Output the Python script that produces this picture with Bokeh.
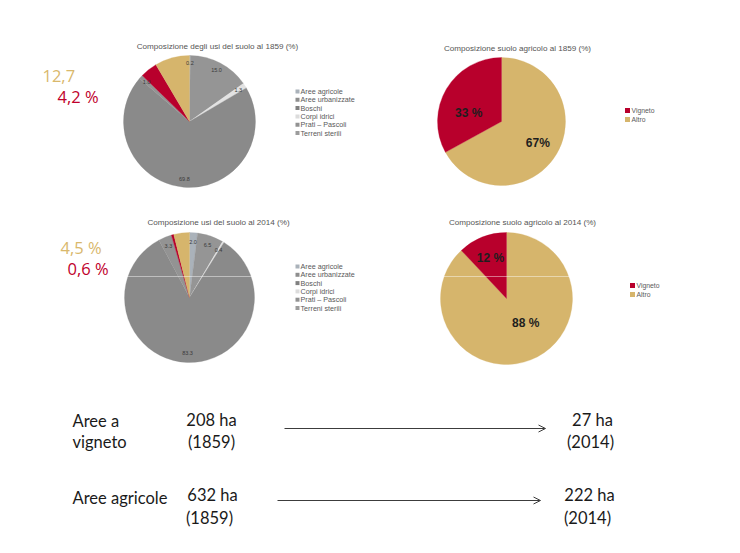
import math
import numpy as np
from bokeh.plotting import figure
from bokeh.models import Range1d, Arrow, OpenHead, ColumnDataSource
from bokeh.core.properties import value
from bokeh.embed import file_html
from bokeh.resources import INLINE

# ---------------- data ----------------
land_categories = ["Aree agricole", "Aree urbanizzate", "Boschi", "Corpi idrici",
                   "Prati \u2013 Pascoli", "Terreni sterili"]
land_legend_colors = ["#aab2ba", "#8e8e8e", "#808080", "#dcdcdc", "#929292", "#9c9c9c"]

# slices clockwise from 12 o'clock (vineyard + other agricultural overlaid in colour)
land_1859_values = [0.2, 15.0, 1.3, 69.8, 1.0, 4.2, 8.5]
land_1859_labels = ["0.2", "15.0", "1.3", "69.8", "1.0", "", ""]
land_2014_values = [2.0, 6.5, 0.4, 83.3, 3.3, 0.6, 3.9]
land_2014_labels = ["2.0", "6.5", "0.4", "83.3", "3.3", "", ""]
land_slice_colors = ["#aab2ba", "#959595", "#e2e2e2", "#8a8a8a", "#939393", "#b8002c", "#d6b56c"]

agri_categories = ["Vigneto", "Altro"]
agri_colors = ["#b8002c", "#d6b56c"]
agri_1859 = [33, 67]
agri_2014 = [12, 88]
agri_1859_labels = ["33 %", "67%"]
agri_2014_labels = ["12 %", "88 %"]

agri_share_1859 = "12,7"
vine_share_1859 = "4,2 %"
agri_share_2014 = "4,5 %"
vine_share_2014 = "0,6 %"

row_line1 = ["Aree a", "Aree agricole"]
row_line2 = ["vigneto", ""]
ha_1859 = [208, 632]
ha_2014 = [27, 222]

titles = ["Composizione degli usi del suolo al 1859 (%)",
          "Composizione suolo agricolo al 1859 (%)",
          "Composizione usi del suolo al 2014 (%)",
          "Composizione suolo agricolo al 2014 (%)"]

# ---------------- figure ----------------
W, H = 724, 537
p = figure(width=W, height=H, output_backend="svg", toolbar_location=None,
           x_range=Range1d(0, W), y_range=Range1d(-H, 0),
           x_axis_type=None, y_axis_type=None, min_border=0,
           outline_line_color=None, background_fill_color="white")

SMALL = value("Liberation Sans")
CAL = value("Lato")


def pie(cx, cy, r, vals, colors):
    cum = np.concatenate([[0.0], np.cumsum(vals)]) / float(sum(vals))
    start = math.pi / 2 - cum[:-1] * 2 * math.pi
    end = math.pi / 2 - cum[1:] * 2 * math.pi
    src = ColumnDataSource(dict(x=[cx] * len(vals), y=[-cy] * len(vals),
                                s=start, e=end, c=colors))
    p.wedge(x="x", y="y", radius=r, start_angle="s", end_angle="e",
            direction="clock", fill_color="c", line_color="c", line_width=0.3,
            source=src)
    mid = math.pi / 2 - (cum[:-1] + cum[1:]) * math.pi
    return mid


def pie_labels(cx, cy, r, mid, labels, k, size, color, bold=False):
    ks = k if isinstance(k, (list, tuple)) else [k] * len(labels)
    xs = [cx + kk * r * math.cos(a) for kk, a in zip(ks, mid)]
    ys = [-cy + kk * r * math.sin(a) for kk, a in zip(ks, mid)]
    p.text(x=xs, y=ys, text=labels, text_align="center", text_baseline="middle",
           text_font=SMALL, text_font_size=size, text_color=color,
           text_font_style="bold" if bold else "normal")


# land use pies
m = pie(189, 121, 66, land_1859_values, land_slice_colors)
pie_labels(189, 121, 66, m, land_1859_labels, 0.88, "5.5px", "#3a3a3a")
m = pie(189, 297, 65, land_2014_values, land_slice_colors)
pie_labels(189, 297, 65, m, land_2014_labels, 0.86, "5.5px", "#3a3a3a")

# agricultural pies (Altro first clockwise, then Vigneto)
m = pie(501, 121, 64, agri_1859[::-1], agri_colors[::-1])
pie_labels(501, 121, 64, m + np.array([0.0, 0.28]), agri_1859_labels[::-1],
           [0.66, 0.53], "12px", "#1e1e1e", bold=True)
m = pie(506, 298, 66, agri_2014[::-1], agri_colors[::-1])
pie_labels(506, 298, 66, m + np.array([0.29, 0.0]), agri_2014_labels[::-1],
           [0.47, 0.66], "12px", "#1e1e1e", bold=True)

# faint scan line across the lower pies
p.segment(x0=[120, 437], y0=[-276, -276], x1=[258, 575], y1=[-276, -276],
          line_color="white", line_alpha=0.45, line_width=1)

# titles
p.text(x=[217, 517, 218, 522], y=[-46, -48, -222, -222], text=titles,
       text_align="center", text_baseline="middle", text_font=SMALL,
       text_font_size="8.1px", text_color="#555555")

# land legends
for ly in (91, 266):
    ys = [-(ly + 8.3 * i) for i in range(len(land_categories))]
    p.scatter(x=[297] * len(ys), y=ys, marker="square", size=4,
              fill_color=land_legend_colors, line_color=None)
    p.text(x=[300] * len(ys), y=ys, text=land_categories, text_baseline="middle",
           text_font=SMALL, text_font_size="7.2px", text_color="#595959")

# agricultural legends
for lx, ly in ((627, 110), (632, 285)):
    ys = [-ly, -(ly + 9)]
    p.scatter(x=[lx, lx], y=ys, marker="square", size=5,
              fill_color=agri_colors, line_color=None)
    p.text(x=[lx + 4, lx + 4], y=ys, text=agri_categories, text_baseline="middle",
           text_font=SMALL, text_font_size="6.8px", text_color="#595959")

# share annotations
p.text(x=[42, 60], y=[-75, -247], text=[agri_share_1859, agri_share_2014],
       text_baseline="middle", text_font=value("Open Sans"), text_font_size="16.5px",
       text_color="#d9b86c")
p.text(x=[57, 67], y=[-96, -268], text=[vine_share_1859, vine_share_2014],
       text_baseline="middle", text_font=value("Open Sans"), text_font_size="16.5px",
       text_color="#c0002b")

# bottom comparison
FS = "16.5px"
p.text(x=[72, 72], y=[-420, -497], text=row_line1, text_baseline="middle",
       text_font=CAL, text_font_size=FS, text_color="#1a1a1a")
p.text(x=[72], y=[-441], text=row_line2[:1], text_baseline="middle",
       text_font=CAL, text_font_size=FS, text_color="#1a1a1a")
p.text(x=[211, 212], y=[-419, -494], text=[f"{ha_1859[0]} ha", f"{ha_1859[1]} ha"],
       text_align="center", text_baseline="middle", text_font=CAL,
       text_font_size=FS, text_color="#1a1a1a")
p.text(x=[211, 209], y=[-441, -517], text=["(1859)", "(1859)"],
       text_align="center", text_baseline="middle", text_font=CAL,
       text_font_size=FS, text_color="#1a1a1a")
p.text(x=[592, 589], y=[-419, -494], text=[f"{ha_2014[0]} ha", f"{ha_2014[1]} ha"],
       text_align="center", text_baseline="middle", text_font=CAL,
       text_font_size=FS, text_color="#1a1a1a")
p.text(x=[590, 587], y=[-441, -517], text=["(2014)", "(2014)"],
       text_align="center", text_baseline="middle", text_font=CAL,
       text_font_size=FS, text_color="#1a1a1a")

for x0, x1, y in ((284, 545, 428), (277, 540, 500)):
    p.add_layout(Arrow(x_start=x0, y_start=-y, x_end=x1, y_end=-y,
                       line_color="#3c3c3c", line_width=1,
                       end=OpenHead(size=7, line_color="#3c3c3c", line_width=1)))

open("out.html", "w").write(file_html(p, INLINE))
